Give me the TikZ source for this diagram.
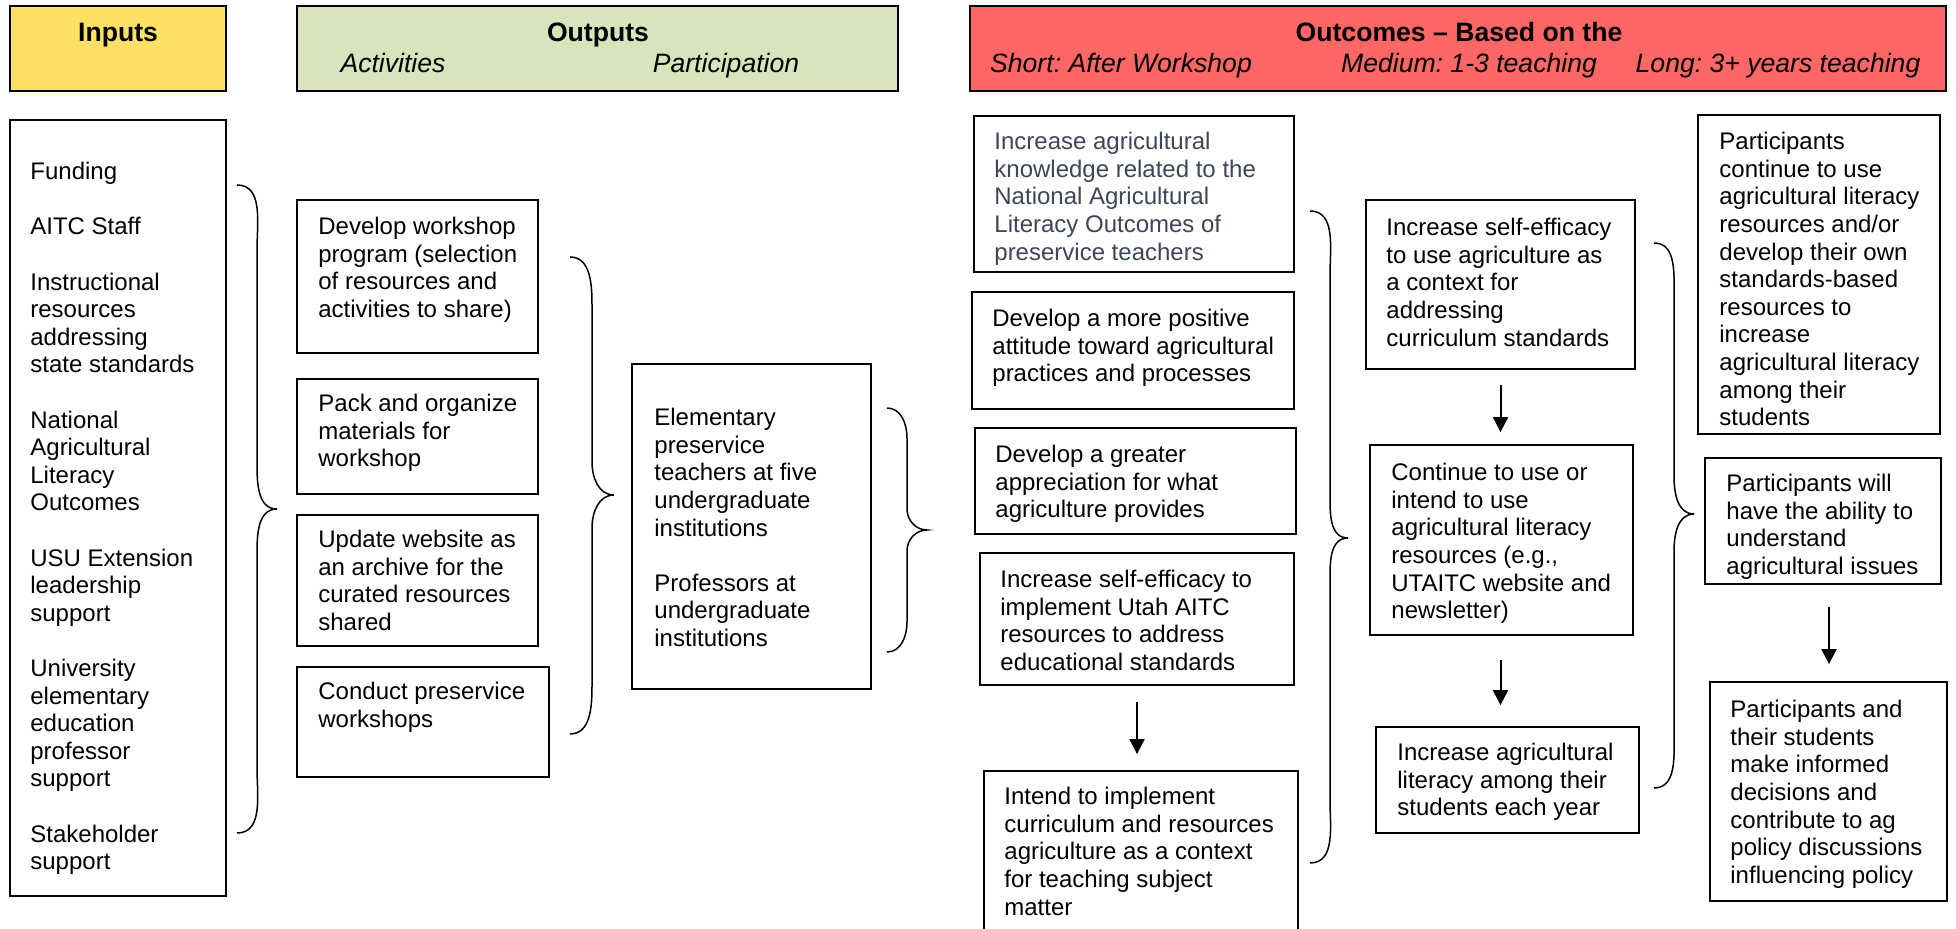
\documentclass[tikz,border=0pt]{standalone}
\usepackage{fontspec}
\setmainfont{Liberation Sans}
\frenchspacing
\usetikzlibrary{arrows.meta,fit}
\definecolor{inyellow}{HTML}{FFE066}
\definecolor{outgreen}{HTML}{D8E4BC}
\definecolor{ocred}{HTML}{FF6666}
\definecolor{slate}{HTML}{3B4656}

\begin{document}
\begin{tikzpicture}[x=0.5pt,y=-0.5pt,
    box/.style={draw, line width=0.9pt, inner sep=0pt},
    headbox/.style={draw, line width=1.3pt, inner sep=0pt},
    txt/.style={anchor=north west, align=left, inner sep=0pt, font=\fontsize{12}{13.8}\selectfont},
    headtxt/.style={anchor=base, inner sep=0pt, font=\fontsize{13.3}{16}\selectfont\bfseries},
    subtxt/.style={anchor=base, inner sep=0pt, font=\fontsize{13.3}{16}\selectfont\itshape},
    flow/.style={-{Triangle[length=7.5pt,width=7.5pt]}, line width=1pt},
    curly/.style={line width=0.75pt}]
                \useasboundingbox (0,0) rectangle (1956,929);
                \clip (0,0) rectangle (1956,929);

                %% headers
                \node[headbox, fill=inyellow, fit={(10,6) (226,91)}] (hin) {};
                \node[headbox, fill=outgreen, fit={(297,6) (898,91)}] (hout) {};
                \node[headbox, fill=ocred, fit={(970,6) (1946,91)}] (hoc) {};

                \node[headtxt] (hintxt) at (118,42) {Inputs};
                \node[headtxt] (houttxt) at (598,42) {Outputs};
                \node[subtxt] (hact) at (393,73) {Activities};
                \node[subtxt] (hpart) at (726,73) {Participation};
                \node[headtxt] (hoctxt) at (1459,42) {Outcomes -- Based on the};
                \node[subtxt] (hshort) at (1121,73) {Short: After Workshop};
                \node[subtxt] (hmed) at (1469,73) {Medium: 1-3 teaching};
                \node[subtxt] (hlong) at (1778,73) {Long: 3+ years teaching};

                %% inputs
                \node[box, fit={(10,120) (226,896)}] (inputs) {};
                \node[txt] (inputstxt) at (30,162) {Funding\\[13.8pt]
                    AITC Staff\\[13.8pt]
                    Instructional\\resources\\addressing\\state standards\\[13.8pt]
                    National\\Agricultural\\Literacy\\Outcomes\\[13.8pt]
                    USU Extension\\leadership\\support\\[13.8pt]
                    University\\elementary\\education\\professor\\support\\[13.8pt]
                    Stakeholder\\support};

                %brace inputs
                \draw[curly] (237,185) to[out=0,in=90] (257,250) -- (257,464)
                    to[out=-90,in=180] (277,509) to[out=180,in=90] (257,554)
                    -- (257,768) to[out=-90,in=0] (237,833);

                %% activities
                \node[box, fit={(297,200) (538,353)}] (act1) {};
                \node[box, fit={(297,379) (538,494)}] (act2) {};
                \node[box, fit={(297,515) (538,646)}] (act3) {};
                \node[box, fit={(297,667) (549,777)}] (act4) {};
                \node[txt] (act1t) at (318,217) {Develop workshop\\program (selection\\of resources and\\activities to share)};
                \node[txt] (act2t) at (318,394) {Pack and organize\\materials for\\workshop};
                \node[txt] (act3t) at (318,530) {Update website as\\an archive for the\\curated resources\\shared};
                \node[txt] (act4t) at (318,682) {Conduct preservice\\workshops};

                %brace activities
                \draw[curly] (570,257) to[out=0,in=90] (592,305) -- (592,462)
                    to[out=-90,in=180] (614,495) to[out=180,in=90] (592,528)
                    -- (592,686) to[out=-90,in=0] (570,734);

                %% participation
                \node[box, fit={(632,364) (871,689)}] (part) {};
                \node[txt] (partt) at (654,408) {Elementary\\preservice\\teachers at five\\undergraduate\\institutions\\[13.8pt]
                    Professors at\\undergraduate\\institutions};

                %brace participation
                \draw[curly] (887,408) to[out=0,in=90] (907,438) -- (907,509)
                    to[out=-90,in=180] (927,530) to[out=180,in=90] (907,551)
                    -- (907,622) to[out=-90,in=0] (887,652);

                %% short
                \node[box, fit={(974,116) (1294,272)}] (s1) {};
                \node[box, fit={(972,292) (1294,409)}] (s2) {};
                \node[box, fit={(975,428) (1296,534)}] (s3) {};
                \node[box, fit={(980,553) (1294,685)}] (s4) {};
                \node[box, fit={(984,771) (1298,945)}] (s5) {};
                \node[txt, text=slate] (s1t) at (994,132) {Increase agricultural\\knowledge related to the\\National Agricultural\\Literacy Outcomes of\\preservice teachers};
                \node[txt] (s2t) at (992,309) {Develop a more positive\\attitude toward agricultural\\practices and processes};
                \node[txt] (s3t) at (995,445) {Develop a greater\\appreciation for what\\agriculture provides};
                \node[txt] (s4t) at (1000,570) {Increase self-efficacy to\\implement Utah AITC\\resources to address\\educational standards};
                \node[txt] (s5t) at (1004,787) {Intend to implement\\curriculum and resources\\agriculture as a context\\for teaching subject\\matter};
                \draw[flow, shorten <=8pt, shorten >=8pt] (s4.south) -- (s4.south |- s5.north);

                %brace short
                \draw[curly] (1310,211) to[out=0,in=90] (1330,275) -- (1330,493)
                    to[out=-90,in=180] (1348,538) to[out=180,in=90] (1330,583)
                    -- (1330,800) to[out=-90,in=0] (1310,863);

                %% medium
                \node[box, fit={(1366,200) (1635,369)}] (m1) {};
                \node[box, fit={(1370,445) (1633,635)}] (m2) {};
                \node[box, fit={(1376,727) (1639,833)}] (m3) {};
                \node[txt] (m1t) at (1386,218) {Increase self-efficacy\\to use agriculture as\\a context for\\addressing\\curriculum standards};
                \node[txt] (m2t) at (1391,463) {Continue to use or\\intend to use\\agricultural literacy\\resources (e.g.,\\UTAITC website and\\newsletter)};
                \node[txt] (m3t) at (1397,743) {Increase agricultural\\literacy among their\\students each year};
                \draw[flow, shorten <=7.5pt, shorten >=6pt] (m1.south) -- (m1.south |- m2.north);
                \draw[flow, shorten <=12pt, shorten >=10.5pt] (m1.south |- m2.south) -- (m1.south |- m3.north);

                %brace medium
                \draw[curly] (1654,243) to[out=0,in=90] (1674,298) -- (1674,476)
                    to[out=-90,in=180] (1694,514) to[out=180,in=90] (1674,552)
                    -- (1674,733) to[out=-90,in=0] (1654,788);

                %% long
                \node[box, fit={(1698,115) (1940,434)}] (l1) {};
                \node[box, fit={(1705,458) (1941,584)}] (l2) {};
                \node[box, fit={(1710,682) (1947,901)}] (l3) {};
                \node[txt] (l1t) at (1719,132) {Participants\\continue to use\\agricultural literacy\\resources and/or\\develop their own\\standards-based\\resources to\\increase\\agricultural literacy\\among their\\students};
                \node[txt] (l2t) at (1726,474) {Participants will\\have the ability to\\understand\\agricultural issues};
                \node[txt] (l3t) at (1730,700) {Participants and\\their students\\make informed\\decisions and\\contribute to ag\\policy discussions\\influencing policy};
                \draw[flow, shorten <=11pt, shorten >=8.5pt] ([xshift=3pt]l2.south) -- ([xshift=3pt]l2.south |- l3.north);

\end{tikzpicture}
\end{document}
